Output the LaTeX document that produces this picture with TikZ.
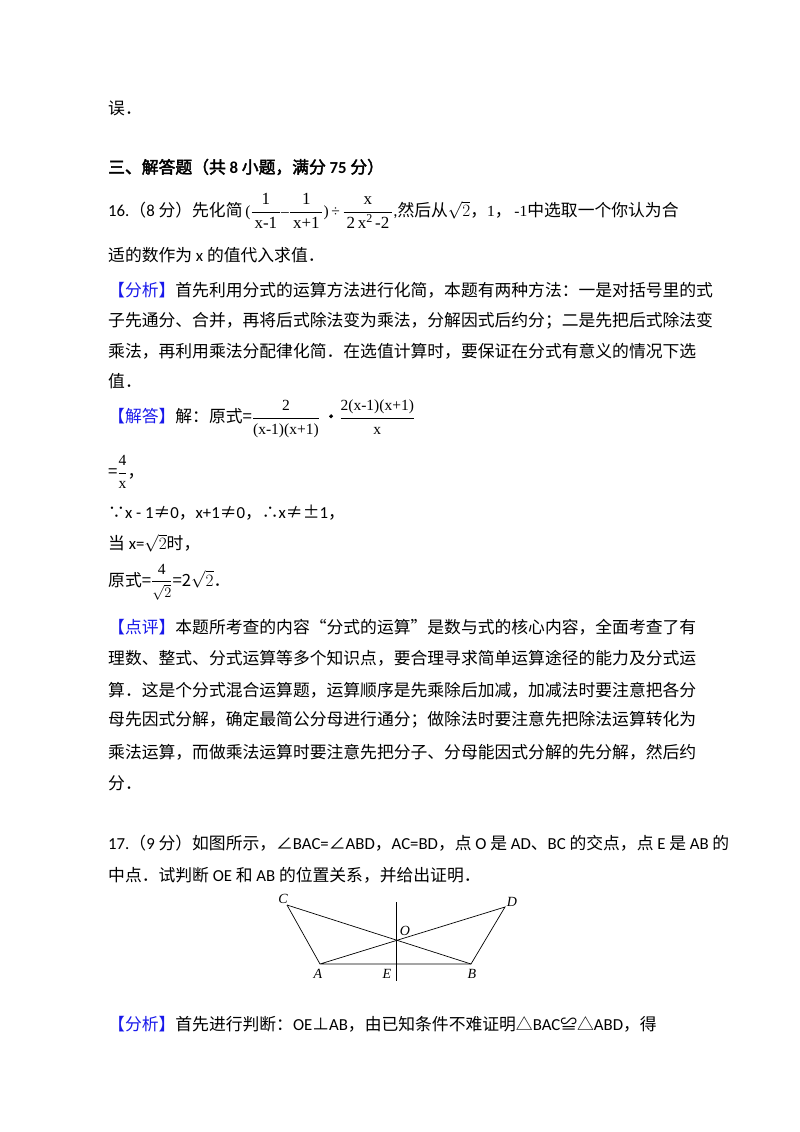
\documentclass[tikz,border=0pt]{standalone}
\usepackage{fontspec}
\setmainfont{Noto Sans CJK SC}[AutoFakeBold=2.5]
\newfontfamily\figfont{Liberation Serif}
\newfontfamily\latf{Carlito}
\newcommand{\lt}[1]{{\latf #1}}
\definecolor{hl}{RGB}{25,25,235}
\newcommand{\frt}[1]{\hbox{\figfont\fontsize{15.5}{15.5}\selectfont #1}}
\newcommand{\fr}[2]{\ensuremath{\displaystyle\frac{\frt{#1}}{\frt{#2}}}}
\newcommand{\frb}[2]{\ensuremath{\displaystyle\frac{\hbox{\figfont\fontsize{17}{17}\selectfont\,#1\,}}{\hbox{\figfont\fontsize{17}{17}\selectfont\,#2\,}}}}
\begin{document}
\begin{tikzpicture}[x=1pt,y=-1pt,
  ln/.style={anchor=west,inner sep=0pt,font=\fontsize{16.8}{16.8}\selectfont},
  fig/.style={line width=0.7pt},
  lbl/.style={inner sep=1pt,font=\figfont\itshape\fontsize{14}{14}\selectfont}]
\useasboundingbox[fill=white] (0,0) rectangle (800,1132);
\node[ln] (l1) at (108,108) {误．};
\node[ln] (l2) at (108,167) {\bfseries 三、解答题（共 \lt{8} 小题，满分 \lt{75} 分）};
\node[ln] (l3) at (108,211) {\lt{16.}（\lt{8} 分）先化简\,\frt{(}\frb{1}{x-1}\frt{–}\frb{1}{x+1}\frt{)\,÷\,}\frb{x}{2\,x\raisebox{6pt}{\fontsize{12}{12}\selectfont 2}\,-2}\lt{,}然后从$\sqrt{2}$，\frt{1}，\,\frt{-1}中选取一个你认为合};
\node[ln] (l4) at (108,255) {适的数作为 \lt{x} 的值代入求值．};
\node[ln] (l5) at (108,290) {\textcolor{hl}{【分析】}首先利用分式的运算方法进行化简，本题有两种方法：一是对括号里的式};
\node[ln] (l6) at (108,321) {子先通分、合并，再将后式除法变为乘法，分解因式后约分；二是先把后式除法变};
\node[ln] (l7) at (108,351) {乘法，再利用乘法分配律化简．在选值计算时，要保证在分式有意义的情况下选};
\node[ln] (l8) at (108,381) {值．};
\node[ln] (l9) at (108,419) {\textcolor{hl}{【解答】}解：原式=\fr{2}{(x-1)(x+1)}\,\textbf{·}\fr{2(x-1)(x+1)}{x}};
\node[ln] (l10) at (108,472) {=\fr{4}{x}，};
\node[ln] (l11) at (108,513) {∵\lt{x - 1}≠\lt{0}，\lt{x+1}≠\lt{0}，∴\lt{x}≠±\lt{1}，};
\node[ln] (l12) at (108,543) {当 \lt{x=}$\sqrt{2}$时，};
\node[ln] (l13) at (108,582) {原式=\fr{4}{$\sqrt{2}$}=2$\sqrt{2}$．};
\node[ln] (l14) at (108,627) {\textcolor{hl}{【点评】}本题所考查的内容“分式的运算”是数与式的核心内容，全面考查了有};
\node[ln] (l15) at (108,658) {理数、整式、分式运算等多个知识点，要合理寻求简单运算途径的能力及分式运};
\node[ln] (l16) at (108,690) {算．这是个分式混合运算题，运算顺序是先乘除后加减，加减法时要注意把各分};
\node[ln] (l17) at (108,720) {母先因式分解，确定最简公分母进行通分；做除法时要注意先把除法运算转化为};
\node[ln] (l18) at (108,752) {乘法运算，而做乘法运算时要注意先把分子、分母能因式分解的先分解，然后约};
\node[ln] (l19) at (108,783) {分．};
\node[ln] (l20) at (108,843) {\lt{17.}（\lt{9} 分）如图所示，∠\lt{BAC=}∠\lt{ABD}，\lt{AC=BD}，点 \lt{O} 是 \lt{AD}、\lt{BC} 的交点，点 \lt{E} 是 \lt{AB} 的};
\node[ln] (l21) at (108,875) {中点．试判断 \lt{OE} 和 \lt{AB} 的位置关系，并给出证明．};
% figure
\coordinate (C) at (287,905);
\coordinate (A) at (320,964);
\coordinate (B) at (471,964);
\coordinate (D) at (505,907);
\coordinate (O) at (396,940);
\coordinate (Et) at (396,902);
\coordinate (Eb) at (396,981);
\draw[fig] (C) -- (A) -- (B) -- (D) -- (A);
\draw[fig] (C) -- (B);
\draw[fig] (Et) -- (Eb);
\node[lbl] (lC) at (283,899) {C};
\node[lbl] (lD) at (512,902) {D};
\node[lbl] (lO) at (405,931) {O};
\node[lbl] (lA) at (318,974) {A};
\node[lbl] (lE) at (387,974) {E};
\node[lbl] (lB) at (472,974) {B};
\node[ln] (l22) at (108,1024) {\textcolor{hl}{【分析】}首先进行判断：\lt{OE}⊥\lt{AB}，由已知条件不难证明△\lt{BAC}≌△\lt{ABD}，得};
\end{tikzpicture}
\end{document}
